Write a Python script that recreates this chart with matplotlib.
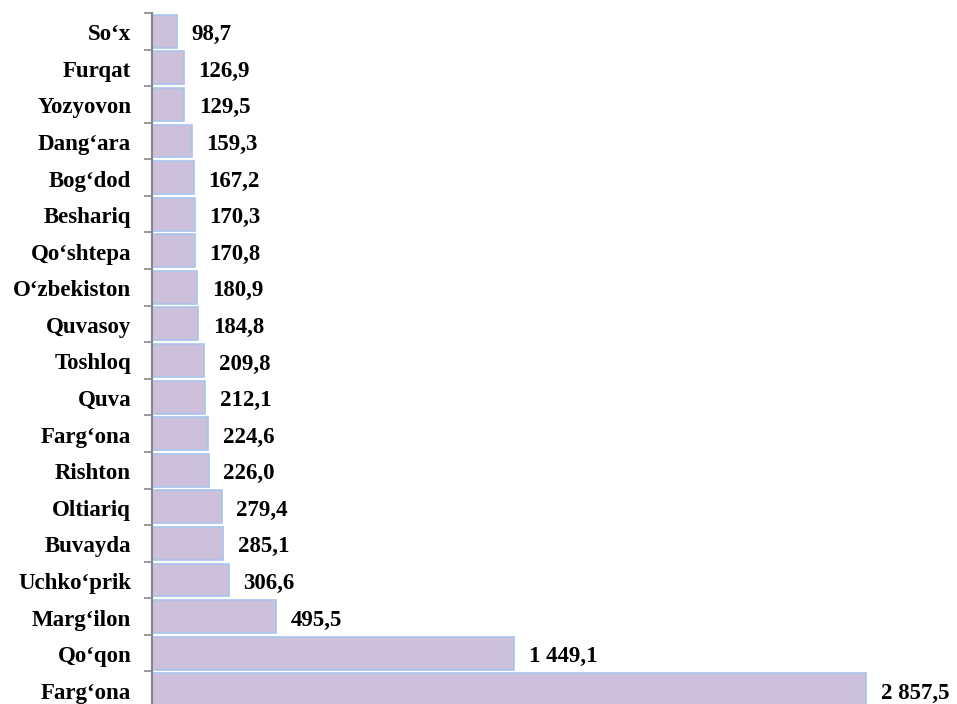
import matplotlib
matplotlib.use("Agg")
import matplotlib.pyplot as plt

categories = ["So‘x", "Furqat", "Yozyovon", "Dang‘ara", "Bog‘dod", "Beshariq",
              "Qo‘shtepa", "O‘zbekiston", "Quvasoy", "Toshloq", "Quva", "Farg‘ona",
              "Rishton", "Oltiariq", "Buvayda", "Uchko‘prik", "Marg‘ilon", "Qo‘qon", "Farg‘ona"]
values = [98.7, 126.9, 129.5, 159.3, 167.2, 170.3, 170.8, 180.9, 184.8, 209.8,
          212.1, 224.6, 226.0, 279.4, 285.1, 306.6, 495.5, 1449.1, 2857.5]

def fmt(v):
    s = f"{v:,.1f}"
    return s.replace(",", " ").replace(".", ",")

W, H = 957, 704
fig = plt.figure(figsize=(W/100, H/100), dpi=100)
left = 152 / W
top = 1 - 13 / H
bottom = 1 - 708 / H
ax = fig.add_axes([left, bottom, 1 - left, top - bottom])

pos = list(range(len(categories)))
ax.barh(pos, values, height=0.9, color="#ccc0da", edgecolor="#a9c4eb", linewidth=1.2)
ax.set_ylim(len(categories) - 0.5, -0.5)
ax.set_xlim(0, (W - 152) / 0.25)

font = dict(family="Liberation Serif", weight="bold", size=16.5)
for p, v, c in zip(pos, values, categories):
    ax.annotate(fmt(v), xy=(v, p), xytext=(10.5, -2.5), textcoords="offset points",
                va="center", ha="left", **font)
    ax.annotate(c, xy=(0, p), xycoords=("axes fraction", "data"), xytext=(-15, -2.5),
                textcoords="offset points", va="center", ha="right", **font)

ax.set_yticks([p - 0.5 for p in pos] + [len(pos) - 0.5])
ax.set_yticklabels([])
ax.tick_params(axis="y", which="major", length=6, color="#868686", width=1.2)
ax.set_xticks([])
for s in ["top", "right", "bottom"]:
    ax.spines[s].set_visible(False)
ax.spines["left"].set_color("#868686")
ax.spines["left"].set_linewidth(1.5)

fig.savefig("out.png", dpi=100)
